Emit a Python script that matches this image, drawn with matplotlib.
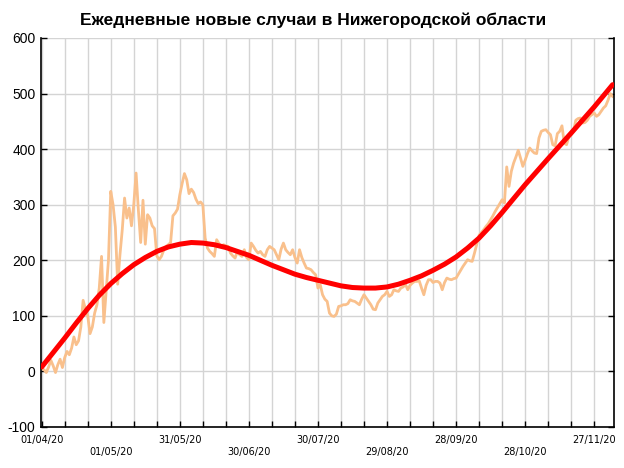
import matplotlib
matplotlib.use("Agg")
import matplotlib.pyplot as plt
import numpy as np

# daily new cases, starting 01/04/2020
cases = [
    5, 3, -2, 8, 20, 10, -2, 12, 22, 7,
    25, 36, 30, 42, 62, 48, 55, 80, 128, 112,
    100, 68, 80, 105, 120, 150, 207, 88, 145, 200,
    324, 300, 260, 157, 210, 255, 312, 276, 294, 262,
    300, 357, 290, 232, 308, 229, 282, 276, 262, 257,
    208, 201, 207, 218, 225, 228, 232, 280, 285, 292,
    318, 338, 356, 345, 320, 328, 322, 310, 302, 305,
    300, 240, 222, 216, 212, 207, 237, 230, 225, 228,
    226, 225, 213, 208, 204, 216, 210, 207, 219, 205,
    201, 231, 225, 218, 213, 216, 210, 207, 219, 225,
    222, 219, 210, 201, 220, 231, 219, 214, 210, 219,
    205, 195, 219, 205, 195, 186, 185, 183, 178, 174,
    150, 156, 138, 130, 126, 105, 100, 99, 103, 117,
    118, 120, 120, 122, 129, 127, 126, 123, 120, 130,
    138, 132, 126, 120, 112, 111, 123, 129, 135, 138,
    144, 135, 138, 147, 145, 144, 150, 152, 157, 147,
    155, 159, 162, 162, 163, 150, 138, 155, 165, 165,
    160, 162, 162, 159, 147, 160, 168, 166, 165, 167,
    168, 175, 182, 189, 195, 201, 199, 198, 213, 229,
    245, 250, 255, 261, 266, 273, 280, 288, 295, 302,
    309, 303, 368, 333, 360, 375, 386, 398, 384, 369,
    380, 392, 402, 397, 393, 392, 420, 432, 434, 435,
    430, 426, 408, 406, 428, 432, 442, 411, 408, 423,
    426, 432, 452, 455, 456, 447, 448, 452, 459, 462,
    465, 459, 462, 468, 474, 478, 488, 500, 495,
]

# trend line (day offset, value)
trend_days = [0, 5, 10, 15, 20, 25, 30, 35, 40, 45, 50, 55, 60, 65, 70, 75,
              80, 85, 90, 95, 100, 105, 110, 115, 120, 125, 130, 135, 140, 145,
              150, 155, 160, 165, 170, 175, 180, 185, 190, 195, 200, 205, 210,
              220, 230, 240, 248]
trend_vals = [8, 34, 60, 87, 113, 137, 158, 176, 192, 205, 216, 224, 229, 232, 231, 228,
              223, 216, 209, 200, 191, 183, 175, 169, 164, 159, 154, 151, 150, 150,
              152, 157, 164, 172, 182, 193, 206, 222, 240, 262, 286, 311, 336,
              383, 429, 476, 516]

tick_days = [0, 30, 60, 90, 120, 150, 180, 210, 240]
tick_labels = ['01/04/20', '01/05/20', '31/05/20', '30/06/20', '30/07/20',
               '29/08/20', '28/09/20', '28/10/20', '27/11/20']

days = np.arange(len(cases))

fig = plt.figure(figsize=(6.24, 4.68), dpi=100)
ax = fig.add_axes([41 / 624, 41 / 468, 573 / 624, 389 / 468])

ax.plot(days, cases, color='#f9c08c', lw=2.0, solid_joinstyle='round', zorder=2)
ax.plot(trend_days, trend_vals, color='#ff0000', lw=3.6, solid_capstyle='round',
        solid_joinstyle='round', zorder=3)

ax.set_xlim(-0.3, 248.6)
ax.set_ylim(-100, 600)

# grid every 10 days / every 100
ax.set_xticks(np.arange(0, 249, 10), minor=True)
ax.set_xticks(tick_days)
ax.set_xticklabels([lab if i % 2 == 0 else '\n' + lab for i, lab in enumerate(tick_labels)],
                   fontsize=7, family='DejaVu Sans')
ax.set_yticks(np.arange(-100, 601, 100))
ax.set_yticklabels([str(v) for v in range(-100, 601, 100)], fontsize=10, family='Liberation Sans')

ax.grid(True, which='both', color='#d4d4d4', lw=1.0, zorder=0)
ax.set_axisbelow(True)

ax.tick_params(axis='x', which='both', direction='in', length=4, width=1, pad=6)
ax.tick_params(axis='y', direction='in', length=4, width=1, pad=4, right=True)

ax.spines['top'].set_visible(False)
for s in ['left', 'bottom', 'right']:
    ax.spines[s].set_color('black')
    ax.spines[s].set_linewidth(1.2)

fig.text(0.502, 0.957, 'Ежедневные новые случаи в Нижегородской области',
         ha='center', va='center', fontsize=12.5, fontweight='bold', family='Liberation Sans')

fig.savefig('out.png', dpi=100)
